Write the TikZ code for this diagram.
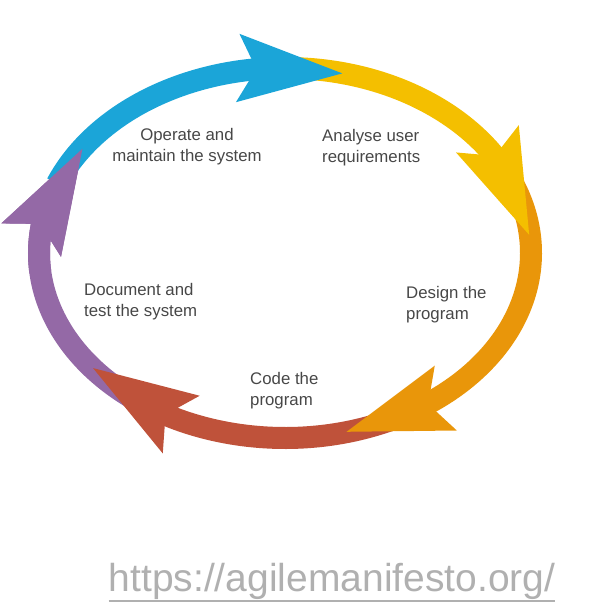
\documentclass[tikz,border=0pt]{standalone}
\usepackage{fontspec}
\setmainfont{Liberation Sans}
\usetikzlibrary{arrows.meta,bending}

\definecolor{opblue}{HTML}{1BA5D8}
\definecolor{reqyellow}{HTML}{F4BF00}
\definecolor{desorange}{HTML}{E9960A}
\definecolor{codered}{HTML}{BF523A}
\definecolor{docpurple}{HTML}{9469A6}
\definecolor{urlgray}{HTML}{B0B0B0}

\begin{document}
\begin{tikzpicture}[
  x=1pt,y=1pt,
  cyclearrow/.style={line width=22pt,
    -{Stealth[length=103pt,width=63pt,inset=15pt,flex]}},
  stagetext/.style={text=black!72,font=\fontsize{16.8}{21}\selectfont,
    align=left,anchor=west,inner sep=0pt}
]
  \useasboundingbox (0,0) rectangle (592,607);
  \coordinate (c) at (285,354);

  % the five phases, each tip lies over the tail of the next one
  \draw[cyclearrow,docpurple] ([shift={(240:246 and 185)}]c)
    arc[start angle=240,end angle=145,x radius=246,y radius=185];
  \draw[cyclearrow,codered] ([shift={(300:246 and 185)}]c)
    arc[start angle=300,end angle=218,x radius=246,y radius=185];
  \draw[cyclearrow,desorange] ([shift={(25:246 and 185)}]c)
    arc[start angle=25,end angle=-76,x radius=246,y radius=185];
  \draw[cyclearrow,reqyellow] ([shift={(92:246 and 185)}]c)
    arc[start angle=92,end angle=5,x radius=246,y radius=185];
  \draw[cyclearrow,opblue] ([shift={(158:246 and 185)}]c)
    arc[start angle=158,end angle=76,x radius=246,y radius=185];
  % purple head once more, on top of the blue tail
  \draw[cyclearrow,docpurple] ([shift={(186:246 and 185)}]c)
    arc[start angle=186,end angle=145,x radius=246,y radius=185];

  \node[stagetext,align=center,anchor=center] (operate) at (187,460)
    {Operate and\\maintain the system};
  \node[stagetext] (analyse) at (322,459) {Analyse user\\requirements};
  \node[stagetext] (design) at (406,302) {Design the\\program};
  \node[stagetext] (code) at (250,216) {Code the\\program};
  \node[stagetext] (document) at (84,305) {Document and\\test the system};

  \node[text=urlgray,font=\fontsize{39}{42}\selectfont,inner sep=0pt,
    anchor=base] (url) at (332,16) {https://agilemanifesto.org/};
  \draw[urlgray,line width=1.5pt] ([yshift=-10pt]url.base west)
    -- ([yshift=-10pt]url.base east);
\end{tikzpicture}
\end{document}
